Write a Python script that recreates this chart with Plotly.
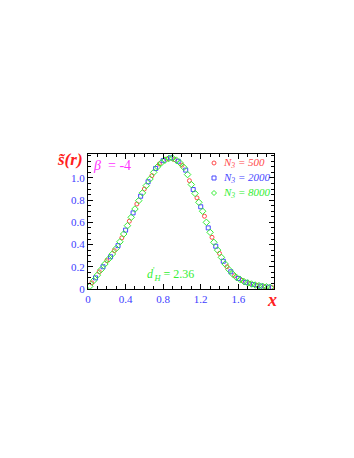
import plotly.graph_objects as go

# ---- data ----
red_x = [0.04, 0.12, 0.20, 0.28, 0.36, 0.44, 0.52, 0.60, 0.68, 0.76, 0.84, 0.92, 1.00,
         1.08, 1.16, 1.24, 1.32, 1.40, 1.48, 1.56, 1.64, 1.72, 1.80, 1.88, 1.96]
red_y = [0.055, 0.155, 0.255, 0.345, 0.46, 0.61, 0.765, 0.90, 1.02, 1.125, 1.17, 1.165, 1.115,
         0.975, 0.82, 0.655, 0.465, 0.32, 0.20, 0.12, 0.078, 0.05, 0.033, 0.022, 0.013]

blue_x = [0.08, 0.16, 0.24, 0.32, 0.40, 0.48, 0.56, 0.64, 0.72, 0.80, 0.88, 0.96, 1.04,
          1.12, 1.20, 1.28, 1.36, 1.44, 1.52, 1.60, 1.68, 1.76, 1.84, 1.92]
blue_y = [0.10, 0.20, 0.29, 0.39, 0.53, 0.685, 0.835, 0.965, 1.085, 1.155, 1.18, 1.15, 1.07,
          0.895, 0.74, 0.55, 0.385, 0.25, 0.155, 0.095, 0.06, 0.04, 0.027, 0.017]

green_x = [0.02, 0.06, 0.10, 0.14, 0.18, 0.22, 0.26, 0.30, 0.34, 0.38, 0.42, 0.46, 0.50,
           0.54, 0.58, 0.62, 0.66, 0.70, 0.74, 0.78, 0.82, 0.86, 0.90, 0.94, 0.98, 1.02,
           1.06, 1.10, 1.14, 1.18, 1.22, 1.26, 1.30, 1.34, 1.38, 1.42, 1.46, 1.50, 1.54,
           1.58, 1.62, 1.66, 1.70, 1.74, 1.78, 1.82, 1.86, 1.90, 1.94]
green_y = [0.025, 0.075, 0.125, 0.175, 0.225, 0.27, 0.315, 0.365, 0.425, 0.495, 0.57, 0.645, 0.72,
           0.795, 0.865, 0.93, 0.99, 1.05, 1.10, 1.135, 1.16, 1.175, 1.178, 1.16, 1.135, 1.095,
           1.03, 0.94, 0.86, 0.78, 0.70, 0.60, 0.51, 0.42, 0.35, 0.285, 0.225, 0.175, 0.135,
           0.105, 0.085, 0.067, 0.055, 0.045, 0.036, 0.03, 0.024, 0.02, 0.015]

x_tickvals = [0, 0.4, 0.8, 1.2, 1.6]
x_ticktext = ["0", "0.4", "0.8", "1.2", "1.6"]
y_tickvals = [0, 0.2, 0.4, 0.6, 0.8, 1.0]
y_ticktext = ["0", "0.2", "0.4", "0.6", "0.8", "1.0"]

series_labels = ["<i>N</i><sub>3</sub> = 500", "<i>N</i><sub>3</sub> = 2000", "<i>N</i><sub>3</sub> = 8000"]

RED = "#ff4a4a"
BLUE = "#4848ff"
GREEN = "#33ee33"
MAG = "#ff33ff"
TICKBLUE = "#3c3cff"
SERIF = "Liberation Serif, Times New Roman, serif"

fig = go.Figure()
fig.add_trace(go.Scatter(x=red_x, y=red_y, mode="markers", name=series_labels[0],
                         marker=dict(symbol="circle-open", size=4, color=RED, line=dict(width=1))))
fig.add_trace(go.Scatter(x=blue_x, y=blue_y, mode="markers", name=series_labels[1],
                         marker=dict(symbol="square-open", size=4, color=BLUE, line=dict(width=1))))
fig.add_trace(go.Scatter(x=green_x, y=green_y, mode="markers", name=series_labels[2],
                         marker=dict(symbol="diamond-open", size=5, color=GREEN, line=dict(width=1))))

# target plot-area edges in page pixels; the page body adds an 8px offset
OFF = 8
L, R, T, B = 88, 274, 154, 289
FW, FH = 354 - 2 * OFF, 458 - 2 * OFF
pw, ph = R - L, B - T

def px(xp):
    return (xp - L) / pw

def py(yp):
    return (B - yp) / ph

axis_common = dict(showline=True, linecolor="black", linewidth=1, mirror="ticks",
                   ticks="inside", ticklen=5, tickcolor="black", showgrid=False, zeroline=False,
                   tickfont=dict(family=SERIF, size=11, color=TICKBLUE))

fig.update_layout(
    width=FW, height=FH,
    margin=dict(l=L - OFF, r=FW + OFF - R, t=T - OFF, b=FH + OFF - B, pad=0),
    paper_bgcolor="white", plot_bgcolor="white",
    showlegend=False,
    xaxis=dict(range=[0, 1.98], tickvals=x_tickvals, ticktext=x_ticktext,
               minor=dict(ticks="inside", ticklen=3, dtick=0.1, tickcolor="black", showgrid=False),
               **axis_common),
    yaxis=dict(range=[0, 1.215], tickvals=y_tickvals, ticktext=y_ticktext,
               minor=dict(ticks="inside", ticklen=3, dtick=0.05, tickcolor="black", showgrid=False),
               **axis_common),
)

ann = []
ann.append(dict(text="<b><i>s\u0303(r)</i></b>", x=px(70), y=py(159), xref="paper", yref="paper",
                showarrow=False, xanchor="center", yanchor="middle",
                font=dict(family=SERIF, size=17, color="#ff2020")))
ann.append(dict(text="<b><i>x</i></b>", x=px(272), y=py(300), xref="paper", yref="paper",
                showarrow=False, xanchor="center", yanchor="middle",
                font=dict(family=SERIF, size=18, color="#ff2020")))
ann.append(dict(text="<i>\u03b2</i>  = -4", x=px(91), y=py(165), xref="paper", yref="paper",
                showarrow=False, xanchor="left", yanchor="middle",
                font=dict(family=SERIF, size=14, color=MAG)))
ann.append(dict(text="<i>d</i><sup>'</sup><sub><i>H</i></sub> = 2.36", x=px(145), y=py(274), xref="paper", yref="paper",
                showarrow=False, xanchor="left", yanchor="middle",
                font=dict(family=SERIF, size=12, color=GREEN)))

leg_y = [163, 178, 193]
leg_col = [RED, BLUE, GREEN]
for lab, yy, c in zip(series_labels, leg_y, leg_col):
    ann.append(dict(text="<i>" + lab + "</i>", x=px(221), y=py(yy), xref="paper", yref="paper",
                    showarrow=False, xanchor="left", yanchor="middle",
                    font=dict(family=SERIF, size=11, color=c)))
fig.update_layout(annotations=ann)

mx = px(214)
shapes = [
    dict(type="circle", xref="paper", yref="paper", xsizemode="pixel", ysizemode="pixel",
         xanchor=mx, yanchor=py(leg_y[0]), x0=-2, x1=2, y0=-2, y1=2,
         line=dict(color=RED, width=1)),
    dict(type="rect", xref="paper", yref="paper", xsizemode="pixel", ysizemode="pixel",
         xanchor=mx, yanchor=py(leg_y[1]), x0=-2, x1=2, y0=-2, y1=2,
         line=dict(color=BLUE, width=1)),
    dict(type="path", xref="paper", yref="paper", xsizemode="pixel", ysizemode="pixel",
         xanchor=mx, yanchor=py(leg_y[2]), path="M0,2.5 L2.5,0 L0,-2.5 L-2.5,0 Z",
         line=dict(color=GREEN, width=1)),
]
fig.update_layout(shapes=shapes)

fig.write_html("out.html")
